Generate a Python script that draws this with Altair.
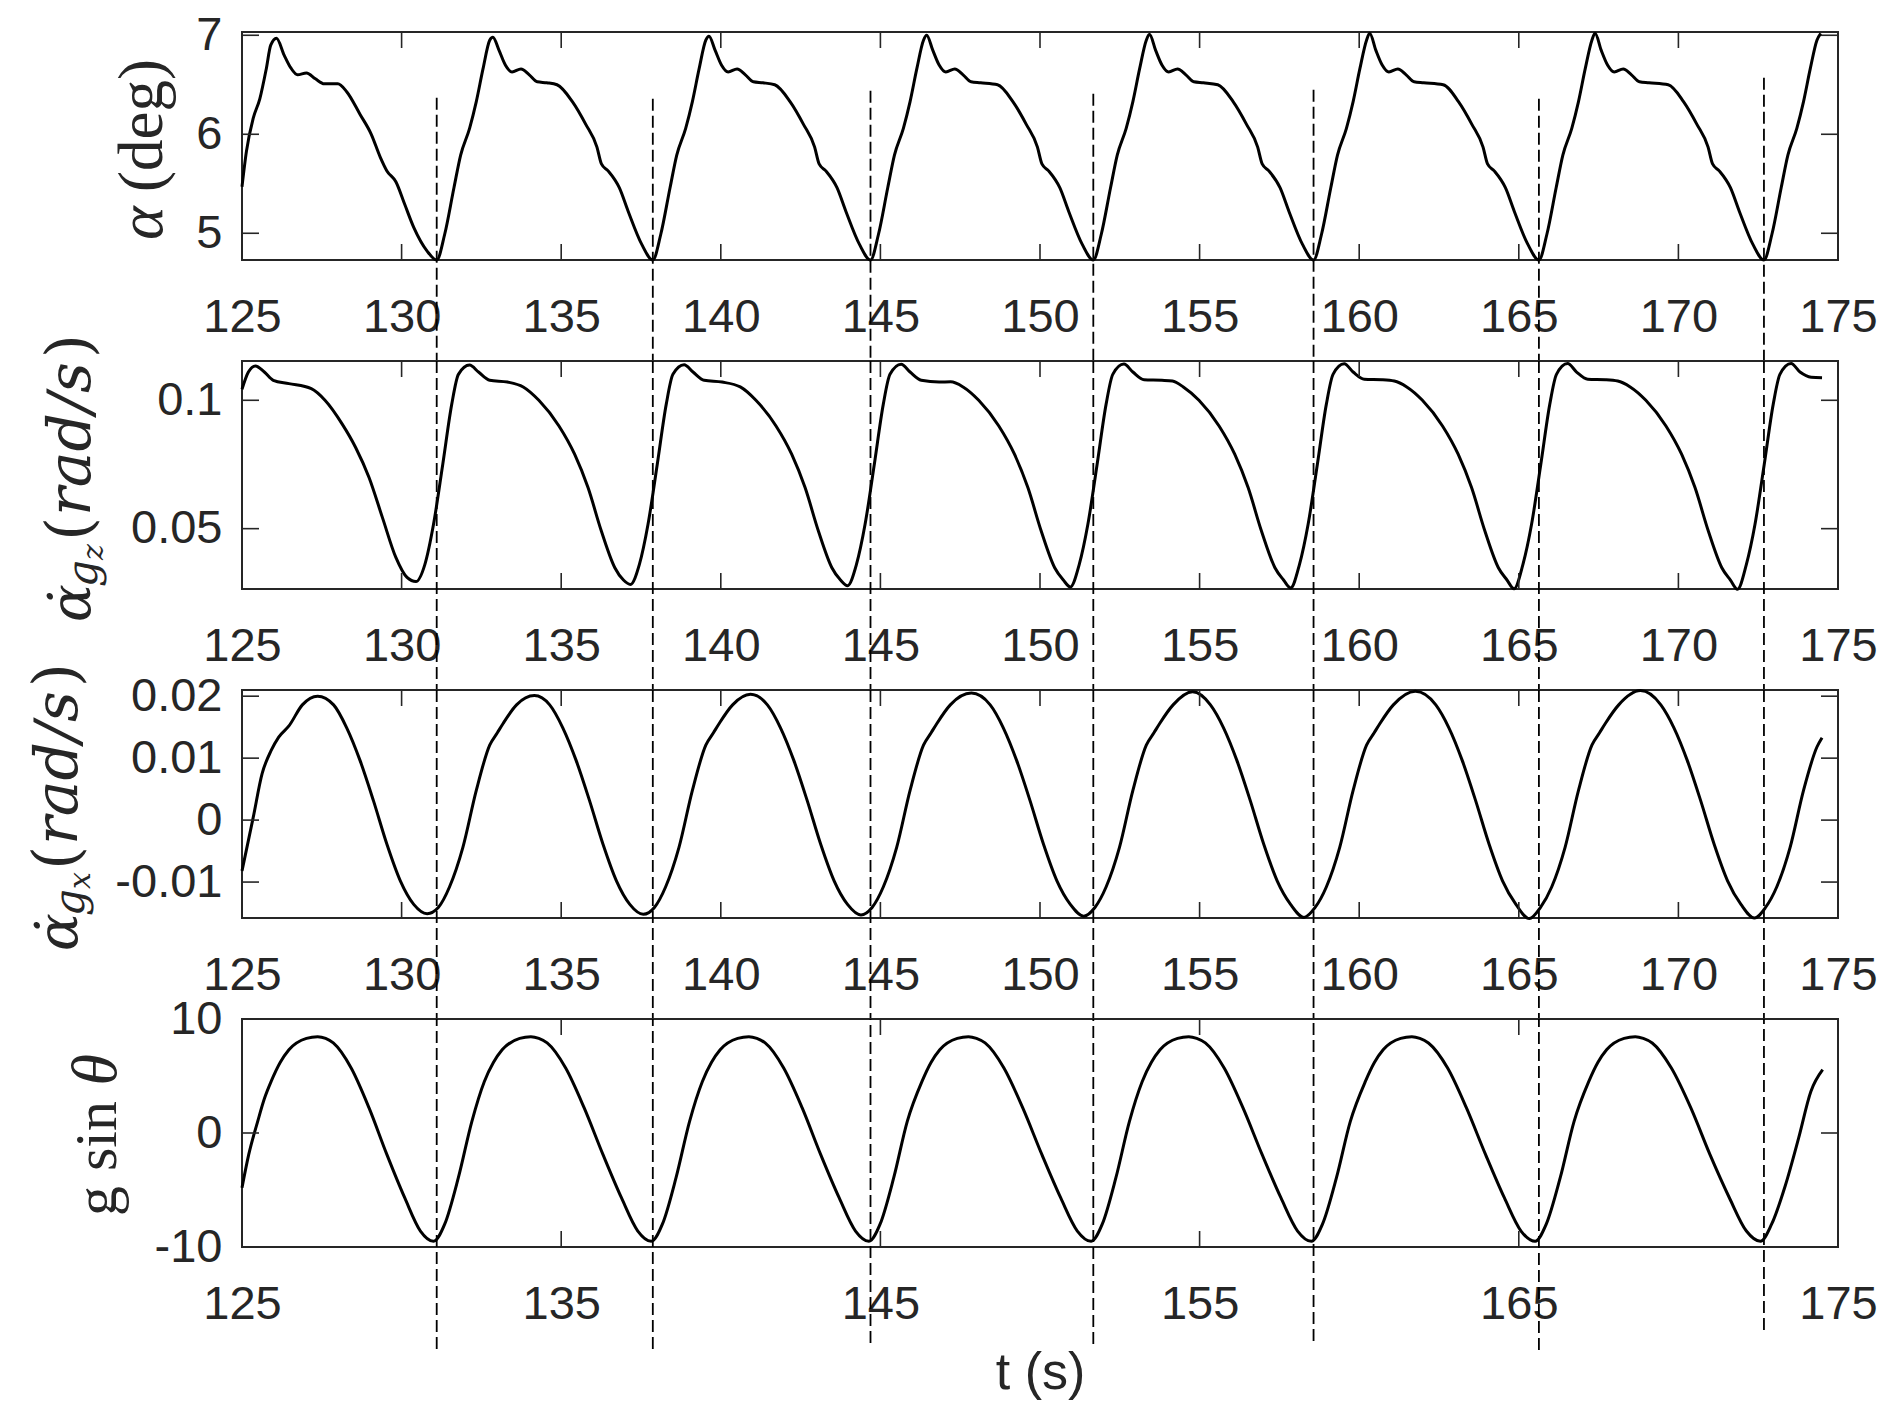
import altair as alt
import pandas as pd

# ---------------- data ----------------
t_alpha = [125.00, 125.14, 125.35, 125.56, 125.76, 125.90, 126.08, 126.32, 126.53, 126.74, 127.02, 127.30,
           127.58, 128.00, 128.28, 128.70, 129.05, 129.33, 129.54, 129.82, 130.10, 130.38, 130.80, 131.10,
           131.35, 131.64, 131.85, 132.13, 132.34, 132.55, 132.76, 132.86, 133.05, 133.25, 133.46, 133.74,
           134.00, 134.25, 134.55, 134.87, 135.35, 135.77, 136.12, 136.26, 136.47, 136.82, 137.10, 137.52, 137.87,
           138.12, 138.41, 138.62, 138.90, 139.11, 139.32, 139.53, 139.63, 139.82, 140.02, 140.23, 140.51,
           140.77, 141.02, 141.32, 141.69, 142.17, 142.59, 142.94, 143.08, 143.29, 143.64, 143.92, 144.34, 144.69,
           144.94, 145.23, 145.44, 145.72, 145.93, 146.14, 146.35, 146.45, 146.64, 146.84, 147.05, 147.33,
           147.59, 147.84, 148.14, 148.67, 149.15, 149.57, 149.92, 150.06, 150.27, 150.62, 150.90, 151.32, 151.67,
           151.92, 152.21, 152.42, 152.70, 152.91, 153.12, 153.33, 153.43, 153.62, 153.82, 154.03, 154.31,
           154.57, 154.82, 155.12, 155.57, 156.05, 156.47, 156.82, 156.96, 157.17, 157.52, 157.80, 158.22, 158.57,
           158.82, 159.11, 159.32, 159.60, 159.81, 160.02, 160.23, 160.33, 160.52, 160.72, 160.93, 161.21,
           161.47, 161.72, 162.02, 162.63, 163.11, 163.53, 163.88, 164.02, 164.23, 164.58, 164.86, 165.28, 165.63,
           165.88, 166.17, 166.38, 166.66, 166.87, 167.08, 167.29, 167.39, 167.58, 167.78, 167.99, 168.27,
           168.53, 168.78, 169.08, 169.68, 170.16, 170.58, 170.93, 171.07, 171.28, 171.63, 171.91, 172.33, 172.68,
           172.93, 173.22, 173.43, 173.71, 173.92, 174.13, 174.34, 174.46]
alpha = [5.47, 5.83, 6.16, 6.36, 6.66, 6.90, 6.97, 6.80, 6.67, 6.60, 6.62, 6.56,
         6.51, 6.51, 6.43, 6.20, 6.00, 5.77, 5.63, 5.52, 5.29, 5.06, 4.82, 4.73,
         4.99, 5.46, 5.79, 6.06, 6.33, 6.66, 6.95, 6.98, 6.85, 6.70, 6.63, 6.66,
         6.60, 6.53, 6.52, 6.50, 6.33, 6.10, 5.87, 5.70, 5.63, 5.46, 5.22, 4.89, 4.73,
         4.99, 5.46, 5.79, 6.06, 6.33, 6.66, 6.95, 6.99, 6.85, 6.70, 6.63, 6.66,
         6.60, 6.53, 6.52, 6.50, 6.33, 6.10, 5.87, 5.70, 5.63, 5.46, 5.22, 4.89, 4.73,
         4.99, 5.46, 5.79, 6.06, 6.33, 6.66, 6.95, 7.00, 6.85, 6.70, 6.63, 6.66,
         6.60, 6.53, 6.52, 6.50, 6.33, 6.10, 5.87, 5.70, 5.63, 5.46, 5.22, 4.89, 4.73,
         4.99, 5.46, 5.79, 6.06, 6.33, 6.66, 6.95, 7.01, 6.85, 6.70, 6.63, 6.66,
         6.60, 6.53, 6.52, 6.50, 6.33, 6.10, 5.87, 5.70, 5.63, 5.46, 5.22, 4.89, 4.73,
         4.99, 5.46, 5.79, 6.06, 6.33, 6.66, 6.95, 7.02, 6.85, 6.70, 6.63, 6.66,
         6.60, 6.53, 6.52, 6.50, 6.33, 6.10, 5.87, 5.70, 5.63, 5.46, 5.22, 4.89, 4.73,
         4.99, 5.46, 5.79, 6.06, 6.33, 6.66, 6.95, 7.02, 6.85, 6.70, 6.63, 6.66,
         6.60, 6.53, 6.52, 6.50, 6.33, 6.10, 5.87, 5.70, 5.63, 5.46, 5.22, 4.89, 4.73,
         4.99, 5.46, 5.79, 6.06, 6.33, 6.66, 6.95, 7.02]

t_gz = [125.00, 125.20, 125.42, 125.70, 125.98, 126.47, 127.17, 127.60, 128.14, 128.56, 128.98, 129.40,
        129.82, 130.17, 130.45, 130.73, 131.00, 131.29, 131.57, 131.78, 132.13, 132.41, 132.76, 133.32,
        133.81, 134.30, 134.93, 135.42, 135.84, 136.26, 136.68, 136.95, 137.17, 137.45, 137.72, 138.01,
        138.29, 138.50, 138.85, 139.13, 139.48, 140.04, 140.61, 141.10, 141.73, 142.22, 142.64, 143.06,
        143.48, 143.75, 143.97, 144.25, 144.52, 144.81, 145.09, 145.30, 145.65, 145.93, 146.28, 146.84,
        147.20, 147.59, 148.08, 148.71, 149.20, 149.62, 150.04, 150.46, 150.73, 150.95, 151.23, 151.50,
        151.79, 152.07, 152.28, 152.63, 152.91, 153.26, 153.82, 154.15, 154.49, 154.98, 155.61, 156.10,
        156.52, 156.94, 157.36, 157.63, 157.85, 158.13, 158.40, 158.69, 158.97, 159.18, 159.53, 159.81,
        160.16, 160.72, 161.10, 161.49, 161.98, 162.61, 163.10, 163.52, 163.94, 164.36, 164.63, 164.85,
        165.13, 165.40, 165.69, 165.97, 166.18, 166.53, 166.81, 167.16, 167.72, 168.10, 168.49, 168.98,
        169.61, 170.10, 170.52, 170.94, 171.36, 171.63, 171.85, 172.13, 172.40, 172.69, 172.97, 173.18,
        173.53, 173.81, 174.16, 174.50]
gz = [0.1043, 0.1110, 0.1134, 0.1110, 0.1078, 0.1065, 0.1045, 0.1000, 0.0907, 0.0816, 0.0699, 0.0543,
      0.0388, 0.0310, 0.0294, 0.0361, 0.0517, 0.0751, 0.0984, 0.1101, 0.1137, 0.1110, 0.1078, 0.1071,
      0.1052, 0.1000, 0.0900, 0.0790, 0.0660, 0.0490, 0.0348, 0.0300, 0.0283, 0.0361, 0.0517, 0.0751,
      0.0984, 0.1101, 0.1138, 0.1110, 0.1078, 0.1071, 0.1052, 0.1000, 0.0900, 0.0790, 0.0660, 0.0490,
      0.0348, 0.0300, 0.0278, 0.0361, 0.0517, 0.0751, 0.0984, 0.1101, 0.1140, 0.1110, 0.1078, 0.1071,
      0.1072, 0.1052, 0.1000, 0.0900, 0.0790, 0.0660, 0.0490, 0.0348, 0.0300, 0.0273, 0.0361, 0.0517,
      0.0751, 0.0984, 0.1101, 0.1141, 0.1110, 0.1080, 0.1078, 0.1075, 0.1052, 0.1000, 0.0900, 0.0790,
      0.0660, 0.0490, 0.0348, 0.0300, 0.0269, 0.0361, 0.0517, 0.0751, 0.0984, 0.1101, 0.1142, 0.1110,
      0.1082, 0.1080, 0.1075, 0.1052, 0.1000, 0.0900, 0.0790, 0.0660, 0.0490, 0.0348, 0.0300, 0.0266,
      0.0361, 0.0517, 0.0751, 0.0984, 0.1101, 0.1143, 0.1110, 0.1082, 0.1080, 0.1075, 0.1052, 0.1000,
      0.0900, 0.0790, 0.0660, 0.0490, 0.0348, 0.0300, 0.0264, 0.0361, 0.0517, 0.0751, 0.0984, 0.1101,
      0.1143, 0.1110, 0.1090, 0.1088]

t_gx = [125.00, 125.35, 125.63, 125.91, 126.15, 126.47, 126.89, 127.37, 127.87, 128.28, 128.70, 129.12,
        129.54, 129.96, 130.38, 130.80, 131.15, 131.50, 131.92, 132.34, 132.76, 133.00, 133.18, 133.60,
        134.16, 134.64, 135.05, 135.47, 135.89, 136.31, 136.73, 137.15, 137.57, 137.92, 138.27, 138.69,
        139.11, 139.53, 139.77, 139.95, 140.37, 140.93, 141.46, 141.87, 142.29, 142.71, 143.13, 143.55,
        143.97, 144.39, 144.74, 145.09, 145.51, 145.93, 146.35, 146.59, 146.77, 147.19, 147.85, 148.44,
        148.85, 149.27, 149.69, 150.11, 150.53, 150.95, 151.37, 151.72, 152.07, 152.49, 152.91, 153.33,
        153.57, 153.75, 154.17, 154.78, 155.34, 155.75, 156.17, 156.59, 157.01, 157.43, 157.85, 158.27,
        158.62, 158.97, 159.39, 159.81, 160.23, 160.47, 160.65, 161.07, 161.76, 162.40, 162.81, 163.23,
        163.65, 164.07, 164.49, 164.91, 165.33, 165.68, 166.03, 166.45, 166.87, 167.29, 167.53, 167.71,
        168.13, 168.81, 169.45, 169.86, 170.28, 170.70, 171.12, 171.54, 171.96, 172.38, 172.73, 173.08,
        173.50, 173.92, 174.34, 174.50]
gx = [-0.0082, 0.0004, 0.0075, 0.0112, 0.0134, 0.0152, 0.0186, 0.0200, 0.0186, 0.0149, 0.0096, 0.0031,
      -0.0039, -0.0098, -0.0136, -0.0151, -0.0141, -0.0108, -0.0044, 0.0048, 0.0121, 0.0141, 0.0156, 0.0186,
      0.0201, 0.0186, 0.0149, 0.0096, 0.0031, -0.0039, -0.0098, -0.0136, -0.0152, -0.0141, -0.0108, -0.0044,
      0.0048, 0.0121, 0.0141, 0.0156, 0.0186, 0.0203, 0.0186, 0.0149, 0.0096, 0.0031, -0.0039, -0.0098,
      -0.0136, -0.0153, -0.0141, -0.0108, -0.0044, 0.0048, 0.0121, 0.0141, 0.0156, 0.0186, 0.0205, 0.0186,
      0.0149, 0.0096, 0.0031, -0.0039, -0.0098, -0.0136, -0.0155, -0.0141, -0.0108, -0.0044, 0.0048, 0.0121,
      0.0141, 0.0156, 0.0186, 0.0207, 0.0186, 0.0149, 0.0096, 0.0031, -0.0039, -0.0098, -0.0136, -0.0157,
      -0.0141, -0.0108, -0.0044, 0.0048, 0.0121, 0.0141, 0.0156, 0.0186, 0.0208, 0.0186, 0.0149, 0.0096,
      0.0031, -0.0039, -0.0098, -0.0136, -0.0159, -0.0141, -0.0108, -0.0044, 0.0048, 0.0121, 0.0141, 0.0156,
      0.0186, 0.0209, 0.0186, 0.0149, 0.0096, 0.0031, -0.0039, -0.0098, -0.0136, -0.0158, -0.0141, -0.0108,
      -0.0044, 0.0048, 0.0118, 0.0133]

t_g = [125.00, 125.21, 125.49, 125.70, 125.91, 126.20, 126.47, 127.02, 127.37, 127.62, 127.86, 128.42,
       128.98, 129.54, 130.10, 130.59, 131.00,
       131.35, 131.78, 132.20, 132.59, 132.88, 133.15, 133.70, 134.05, 134.30, 134.56, 135.14, 135.72,
       136.31, 136.89, 137.40, 137.82,
       138.17, 138.60, 139.02, 139.42, 139.71, 139.98, 140.53, 140.88, 141.13, 141.39, 141.97, 142.55,
       143.13, 143.71, 144.22, 144.64,
       144.99, 145.42, 145.84, 146.30, 146.59, 146.86, 147.41, 147.76, 148.01, 148.28, 148.87, 149.46,
       150.06, 150.65, 151.17, 151.60,
       151.95, 152.38, 152.80, 153.20, 153.49, 153.76, 154.31, 154.66, 154.91, 155.18, 155.77, 156.36,
       156.96, 157.55, 158.07, 158.50,
       158.85, 159.29, 159.72, 160.19, 160.48, 160.75, 161.30, 161.65, 161.90, 162.17, 162.77, 163.36,
       163.96, 164.55, 165.07, 165.51,
       165.86, 166.30, 166.73, 167.19, 167.48, 167.75, 168.30, 168.65, 168.90, 169.18, 169.78, 170.39,
       170.99, 171.60, 172.13, 172.57,
       172.92, 173.35, 173.77, 174.15, 174.52]
gsin = [-4.8, -1.9, 1.0, 3.0, 4.5, 6.2, 7.3, 8.3, 8.45, 8.3, 7.9, 5.7,
        2.2, -1.9, -5.7, -8.6, -9.5,
        -8.0, -3.9, 1.0, 4.5, 6.2, 7.3, 8.3, 8.45, 8.3, 7.9, 5.7, 2.2,
        -1.9, -5.7, -8.6, -9.5,
        -8.0, -3.9, 1.0, 4.5, 6.2, 7.3, 8.3, 8.45, 8.3, 7.9, 5.7, 2.2,
        -1.9, -5.7, -8.6, -9.5,
        -8.0, -3.9, 1.0, 4.5, 6.2, 7.3, 8.3, 8.45, 8.3, 7.9, 5.7, 2.2,
        -1.9, -5.7, -8.6, -9.5,
        -8.0, -3.9, 1.0, 4.5, 6.2, 7.3, 8.3, 8.45, 8.3, 7.9, 5.7, 2.2,
        -1.9, -5.7, -8.6, -9.5,
        -8.0, -3.9, 1.0, 4.5, 6.2, 7.3, 8.3, 8.45, 8.3, 7.9, 5.7, 2.2,
        -1.9, -5.7, -8.6, -9.5,
        -8.0, -3.9, 1.0, 4.5, 6.2, 7.3, 8.3, 8.45, 8.3, 7.9, 5.7, 2.2,
        -1.9, -5.7, -8.6, -9.5,
        -8.0, -4.6, -0.4, 3.65, 5.56]

# dashed marker lines (minima of alpha)
dash_t = [131.10, 137.87, 144.69, 151.67, 158.57, 165.63, 172.68]
dash_top_alpha = [6.37, 6.36, 6.44, 6.41, 6.45, 6.36, 6.57]      # where each dashed line starts (alpha units)
dash_bottom_g = [-18.95, -18.95, -18.42, -18.51, -18.25, -19.04, -17.28]  # where it ends (g sin theta units)

# ticks
x_ticks_fine = [125, 130, 135, 140, 145, 150, 155, 160, 165, 170, 175]
x_ticks_coarse = [125, 135, 145, 155, 165, 175]
alpha_ticks = [5, 6, 7]
gz_ticks = [0.05, 0.1]
gx_ticks = [-0.01, 0, 0.01, 0.02]
g_ticks = [-10, 0, 10]

alpha_domain = [4.73, 7.033]
gz_domain = [0.0265, 0.1153]
gx_domain = [-0.0158, 0.0210]
g_domain = [-10, 10]

# ---------------- layout / style ----------------
W, H, GAP = 1596, 228, 101
AX = "#262626"
SANS = "Liberation Sans"
SERIF = "Liberation Serif"
DSERIF = "DejaVu Serif"
LBL = 47
PLAIN = "'' + datum.value"


def enc_x(xticks, xtitle):
    ax = dict(values=xticks, ticks=False, tickSize=0, domain=False, grid=False, labelFlush=False,
              labelFont=SANS, labelFontSize=LBL, labelColor=AX, labelPadding=34,
              labelBaseline="top", labelExpr=PLAIN, title=xtitle)
    if xtitle:
        ax.update(titleFont=SANS, titleFontSize=52, titleFontWeight="normal", titleColor=AX, titlePadding=20)
    return alt.X("t:Q", scale=alt.Scale(domain=[125, 175], nice=False, zero=False), axis=alt.Axis(**ax))


def enc_y(ydomain, yticks):
    return alt.Y("v:Q", scale=alt.Scale(domain=ydomain, nice=False, zero=False),
                 axis=alt.Axis(values=yticks, ticks=False, tickSize=0, domain=False, grid=False,
                               labelFont=SANS, labelFontSize=LBL, labelColor=AX, labelPadding=20,
                               labelExpr=PLAIN, title=None))


def txt(s, x, y, font, size, italic=False, align="left"):
    kw = dict(text=s, font=font, fontSize=size, angle=270, align=align, baseline="alphabetic", color=AX)
    if italic:
        kw["fontStyle"] = "italic"
    return alt.Chart(pd.DataFrame({"a": [0]})).mark_text(**kw).encode(x=alt.value(x), y=alt.value(y))


def panel(ts, vs, ydomain, xticks, yticks, titles, dash_layer, xtitle=None):
    x = enc_x(xticks, xtitle)
    y = enc_y(ydomain, yticks)
    df = pd.DataFrame({"t": ts, "v": vs})
    line = alt.Chart(df).mark_line(color="black", strokeWidth=3.0, interpolate="monotone").encode(x=x, y=y)
    xt = pd.DataFrame({"t": xticks})
    yt = pd.DataFrame({"v": yticks})
    tick_style = dict(color=AX, strokeWidth=1.6)
    xb = alt.Chart(xt).mark_rule(**tick_style).encode(x=x, y=alt.value(H), y2=alt.value(H - 16))
    xtp = alt.Chart(xt).mark_rule(**tick_style).encode(x=x, y=alt.value(0), y2=alt.value(16))
    yl = alt.Chart(yt).mark_rule(**tick_style).encode(y=y, x=alt.value(0), x2=alt.value(17))
    yr = alt.Chart(yt).mark_rule(**tick_style).encode(y=y, x=alt.value(W - 17), x2=alt.value(W))
    dash = dash_layer(x, y)
    layers = [line, xb, xtp, yl, yr, dash] + titles
    return alt.layer(*layers).properties(width=W, height=H)


DASH = dict(color="black", strokeWidth=1.8, strokeDash=[12, 5])


def dash_first(x, y):
    d = pd.DataFrame({"t": dash_t, "v": dash_top_alpha})
    return alt.Chart(d).mark_rule(**DASH).encode(x=x, y=y, y2=alt.value(H + GAP))


def dash_mid(x, y):
    d = pd.DataFrame({"t": dash_t})
    return alt.Chart(d).mark_rule(**DASH).encode(x=x, y=alt.value(0), y2=alt.value(H + GAP))


def dash_last(x, y):
    d = pd.DataFrame({"t": dash_t, "v": dash_bottom_g})
    return alt.Chart(d).mark_rule(**DASH).encode(x=x, y=y, y2=alt.value(0))


titles1 = [
    txt("α", -80, 208, SERIF, 64, italic=True),
    txt("(deg)", -80, 27, SERIF, 63, align="right"),
]


def rate_titles(sub, bx):
    return [
        txt("α\u0307", bx, 261, DSERIF, 56, italic=True),
        txt("g", bx + 7, 226, DSERIF, 42, italic=True),
        txt(sub, bx + 13, 199, DSERIF, 30, italic=True),
        txt("(", bx, 180, DSERIF, 62),
        txt("rad/s", bx, 155, DSERIF, 60, italic=True),
        txt(")", bx, -27, DSERIF, 62, align="right"),
    ]


titles4 = [
    txt("g sin", -126, 197, SERIF, 60),
    txt("θ", -126, 35, SERIF, 64, italic=True, align="right"),
]

p1 = panel(t_alpha, alpha, alpha_domain, x_ticks_fine, alpha_ticks, titles1, dash_first)
p2 = panel(t_gz, gz, gz_domain, x_ticks_fine, gz_ticks, rate_titles("z", -152), dash_mid)
p3 = panel(t_gx, gx, gx_domain, x_ticks_fine, gx_ticks, rate_titles("x", -165), dash_mid)
p4 = panel(t_g, gsin, g_domain, x_ticks_coarse, g_ticks, titles4, dash_last, xtitle="t (s)")

chart = alt.vconcat(p1, p2, p3, p4, spacing=GAP, bounds="flush").configure_view(
    stroke=AX, strokeWidth=2
).properties(padding={"left": 18, "top": 2, "right": 5, "bottom": 5})

chart.save("out.html", embed_options={"renderer": "svg", "actions": False})
